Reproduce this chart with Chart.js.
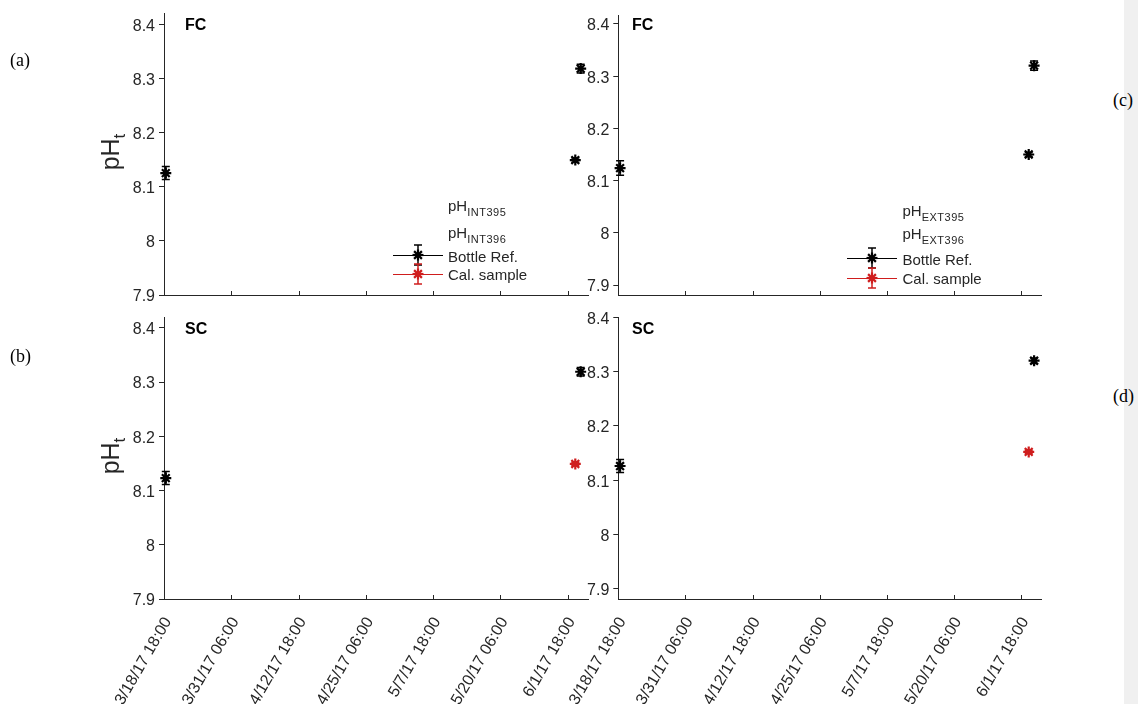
<!DOCTYPE html>
<html>
<head>
<meta charset="utf-8">
<title>pH bottle references</title>
<script src="https://cdn.jsdelivr.net/npm/chart.js@4.4.1/dist/chart.umd.min.js"></script>
<style>
  body { margin: 0; width: 1138px; height: 704px; position: relative; overflow: hidden; background: #fff; font-family: Arial, "Liberation Sans", sans-serif; }
  canvas { position: absolute; }
  .strip { position: absolute; left: 1124px; top: 0; width: 14px; height: 704px; background: #f0f0f0; }
  .tag { position: absolute; font-family: "Liberation Serif", "Times New Roman", serif; font-size: 18px; line-height: 18px; color: #000; }
  .site { position: absolute; font-size: 16px; line-height: 16px; font-weight: bold; color: #000; }
  .ylab { position: absolute; width: 60px; height: 30px; line-height: 30px; text-align: center; font-size: 25px; color: #262626; transform: rotate(-90deg); white-space: nowrap; }
  .ylab sub { font-size: 17px; vertical-align: -6px; }
  .leg { position: absolute; font-size: 15px; line-height: 18px; color: #262626; white-space: nowrap; }
  .leg sub { font-size: 11px; vertical-align: -5px; letter-spacing: 0.5px; }
  svg.sym { position: absolute; overflow: visible; }
</style>
</head>
<body>
<div class="strip"></div>
<script>
// x axis: time, converted to days since the first tick
const xStart = '2017-03-18T18:00Z';
const xEnd = '2017-06-05T14:00Z';
const xTickTimes = ['2017-03-18T18:00Z', '2017-03-31T06:00Z', '2017-04-12T18:00Z', '2017-04-25T06:00Z',
                    '2017-05-07T18:00Z', '2017-05-20T06:00Z', '2017-06-01T18:00Z'];
const xTickLabels = ['3/18/17 18:00', '3/31/17 06:00', '4/12/17 18:00', '4/25/17 06:00',
                     '5/7/17 18:00', '5/20/17 06:00', '6/1/17 18:00'];
const yTicks = [7.9, 8, 8.1, 8.2, 8.3, 8.4];

// sample times shared by every panel
const sampleTimes = ['2017-03-19T02:00Z', '2017-06-03T04:00Z', '2017-06-04T04:00Z'];

// (a) FC, internal sensor
const fcIntRef = [8.125, 8.149, 8.318];
const fcIntRefErr = [0.012, 0.004, 0.008];
const fcIntCal = [null, null, null];
const fcIntCalErr = [0, 0, 0];
// (b) SC, internal sensor
const scIntRef = [8.123, null, 8.319];
const scIntRefErr = [0.012, 0, 0.008];
const scIntCal = [null, 8.149, null];
const scIntCalErr = [0, 0.003, 0];
// (c) FC, external sensor
const fcExtRef = [8.124, 8.150, 8.320];
const fcExtRefErr = [0.014, 0.004, 0.009];
const fcExtCal = [null, null, null];
const fcExtCalErr = [0, 0, 0];
// (d) SC, external sensor
const scExtRef = [8.126, null, 8.320];
const scExtRefErr = [0.012, 0, 0.005];
const scExtCal = [null, 8.152, null];
const scExtCalErr = [0, 0.003, 0];

const seriesNames = ['Bottle Ref.', 'Cal. sample'];
const intNames = ['INT395', 'INT396'];
const extNames = ['EXT395', 'EXT396'];

const axisColor = '#262626';
const refColor = '#000000';
const calColor = '#cf1d1d';
const fontFamily = 'Arial, "Liberation Sans", sans-serif';

function day(s) { return (Date.parse(s) - Date.parse(xStart)) / 864e5; }

function points(values, errors) {
  const out = [];
  values.forEach((v, i) => {
    if (v !== null) out.push({ x: day(sampleTimes[i]), y: v, e: errors[i] });
  });
  return out;
}

// vertical error bars with caps, drawn under the markers
const errorBars = {
  id: 'errorBars',
  beforeDatasetsDraw(chart) {
    const { ctx, scales: { x, y } } = chart;
    chart.data.datasets.forEach(ds => {
      ctx.save();
      ctx.strokeStyle = ds.pointBorderColor;
      ctx.lineWidth = 1.5;
      ds.data.forEach(p => {
        if (!p.e) return;
        const px = x.getPixelForValue(p.x);
        const top = y.getPixelForValue(p.y + p.e);
        const bot = y.getPixelForValue(p.y - p.e);
        ctx.beginPath();
        ctx.moveTo(px, top); ctx.lineTo(px, bot);
        ctx.moveTo(px - 4, top); ctx.lineTo(px + 4, top);
        ctx.moveTo(px - 4, bot); ctx.lineTo(px + 4, bot);
        ctx.stroke();
      });
      ctx.restore();
    });
  }
};

// x tick marks point into the plot
const innerTicks = {
  id: 'innerTicks',
  afterDraw(chart) {
    const { ctx, chartArea, scales: { x } } = chart;
    ctx.save();
    ctx.strokeStyle = axisColor;
    ctx.lineWidth = 1;
    x.ticks.forEach(t => {
      const px = Math.round(x.getPixelForValue(t.value)) + 0.5;
      ctx.beginPath();
      ctx.moveTo(px, chartArea.bottom);
      ctx.lineTo(px, chartArea.bottom - 4);
      ctx.stroke();
    });
    ctx.restore();
  }
};

// canvases overlap a little so the y label padding never moves the plot area
const panels = [
  { box: [0, -10, 600, 330], area: [164, 13.3, 588.3, 295], y: [7.9, 8.42], labels: false,
    ref: [fcIntRef, fcIntRefErr], cal: [fcIntCal, fcIntCalErr] },
  { box: [0, 290, 600, 414], area: [164, 317, 588.3, 599], y: [7.9, 8.42], labels: true,
    ref: [scIntRef, scIntRefErr], cal: [scIntCal, scIntCalErr] },
  { box: [540, -10, 520, 330], area: [618.3, 15, 1041.7, 295], y: [7.881, 8.417], labels: false,
    ref: [fcExtRef, fcExtRefErr], cal: [fcExtCal, fcExtCalErr] },
  { box: [540, 290, 520, 414], area: [618.3, 317.3, 1041.7, 599], y: [7.881, 8.4], labels: true,
    ref: [scExtRef, scExtRefErr], cal: [scExtCal, scExtCalErr] }
];

panels.forEach(p => {
  const [L, T, W, H] = p.box;
  const [aL, aT, aR, aB] = p.area;
  const cv = document.createElement('canvas');
  cv.width = W; cv.height = H;
  cv.style.left = L + 'px'; cv.style.top = T + 'px';
  document.body.appendChild(cv);

  const dsBase = { showLine: false, clip: false, pointStyle: 'star', pointRadius: 5.5, pointBorderWidth: 2.2 };
  new Chart(cv, {
    type: 'scatter',
    data: {
      datasets: [
        Object.assign({ label: seriesNames[0], data: points(p.ref[0], p.ref[1]),
          pointBorderColor: refColor, pointBackgroundColor: refColor }, dsBase),
        Object.assign({ label: seriesNames[1], data: points(p.cal[0], p.cal[1]),
          pointBorderColor: calColor, pointBackgroundColor: calColor }, dsBase)
      ]
    },
    options: {
      responsive: false,
      animation: false,
      events: [],
      layout: { padding: { left: 0, top: aT - T, right: L + W - aR, bottom: 0 } },
      plugins: { legend: { display: false }, tooltip: { enabled: false } },
      scales: {
        x: {
          type: 'linear',
          min: 0,
          max: day(xEnd),
          afterBuildTicks: s => { s.ticks = xTickTimes.map(t => ({ value: day(t) })); },
          afterFit: s => { s.height = T + H - aB; },
          ticks: {
            display: p.labels, autoSkip: false, minRotation: 60, maxRotation: 60,
            padding: 7, labelOffset: 4,
            color: axisColor, font: { family: fontFamily, size: 16 },
            callback: (v, i) => xTickLabels[i]
          },
          grid: { display: false },
          border: { display: true, color: axisColor, width: 1 }
        },
        y: {
          min: p.y[0],
          max: p.y[1],
          afterBuildTicks: s => { s.ticks = yTicks.map(v => ({ value: v })); },
          afterFit: s => { s.width = aL - L; },
          ticks: {
            color: axisColor, padding: 4, labelOffset: 2, font: { family: fontFamily, size: 16 },
            callback: v => String(v)
          },
          grid: { display: true, drawOnChartArea: false, tickLength: 5, color: axisColor },
          border: { display: true, color: axisColor, width: 1 }
        }
      }
    },
    plugins: [errorBars, innerTicks]
  });
});

// text overlays
function addDiv(cls, html, left, top) {
  const d = document.createElement('div');
  d.className = cls;
  d.innerHTML = html;
  d.style.left = left + 'px';
  d.style.top = top + 'px';
  document.body.appendChild(d);
  return d;
}

addDiv('tag', '(a)', 10, 51);
addDiv('tag', '(b)', 10, 347);
addDiv('tag', '(c)', 1113, 91);
addDiv('tag', '(d)', 1113, 387);
addDiv('site', 'FC', 185, 16.5);
addDiv('site', 'SC', 185, 320.5);
addDiv('site', 'FC', 632, 16.5);
addDiv('site', 'SC', 632, 320.5);
addDiv('ylab', 'pH<sub>t</sub>', 110 - 30, 152 - 15);
addDiv('ylab', 'pH<sub>t</sub>', 110 - 30, 456 - 15);

// legend symbol: line, error bar and asterisk marker
function legendSymbol(color, left, cy) {
  const ns = 'http://www.w3.org/2000/svg';
  const svg = document.createElementNS(ns, 'svg');
  svg.setAttribute('class', 'sym');
  svg.setAttribute('width', 50);
  svg.setAttribute('height', 24);
  svg.style.left = left + 'px';
  svg.style.top = (cy - 12) + 'px';
  const segs = [[0, 12.5, 50, 12.5, 1, true], [25, 2, 25, 22, 1.5, false],
                [21, 2, 29, 2, 1.5, false], [21, 22, 29, 22, 1.5, false]];
  for (let k = 0; k < 4; k++) {
    const a = k * Math.PI / 4;
    const dx = 5.5 * Math.cos(a), dy = 5.5 * Math.sin(a);
    segs.push([25 - dx, 12 - dy, 25 + dx, 12 + dy, 2.2, false]);
  }
  segs.forEach(s => {
    const l = document.createElementNS(ns, 'line');
    l.setAttribute('x1', s[0]); l.setAttribute('y1', s[1]);
    l.setAttribute('x2', s[2]); l.setAttribute('y2', s[3]);
    l.setAttribute('stroke', color); l.setAttribute('stroke-width', s[4]);
    if (s[5]) l.setAttribute('shape-rendering', 'crispEdges');
    svg.appendChild(l);
  });
  document.body.appendChild(svg);
}

function legend(names, textLeft, rowTops, symLeft, lineYs) {
  addDiv('leg', 'pH<sub>' + names[0] + '</sub>', textLeft, rowTops[0]);
  addDiv('leg', 'pH<sub>' + names[1] + '</sub>', textLeft, rowTops[1]);
  addDiv('leg', seriesNames[0], textLeft, rowTops[2]);
  addDiv('leg', seriesNames[1], textLeft, rowTops[3]);
  legendSymbol(refColor, symLeft, lineYs[0]);
  legendSymbol(calColor, symLeft, lineYs[1]);
}

legend(intNames, 448, [197, 224, 247.5, 265.5], 393, [255, 274.3]);
legend(extNames, 902.5, [202, 225, 250.5, 269.5], 847, [258.3, 278.3]);
</script>
</body>
</html>
